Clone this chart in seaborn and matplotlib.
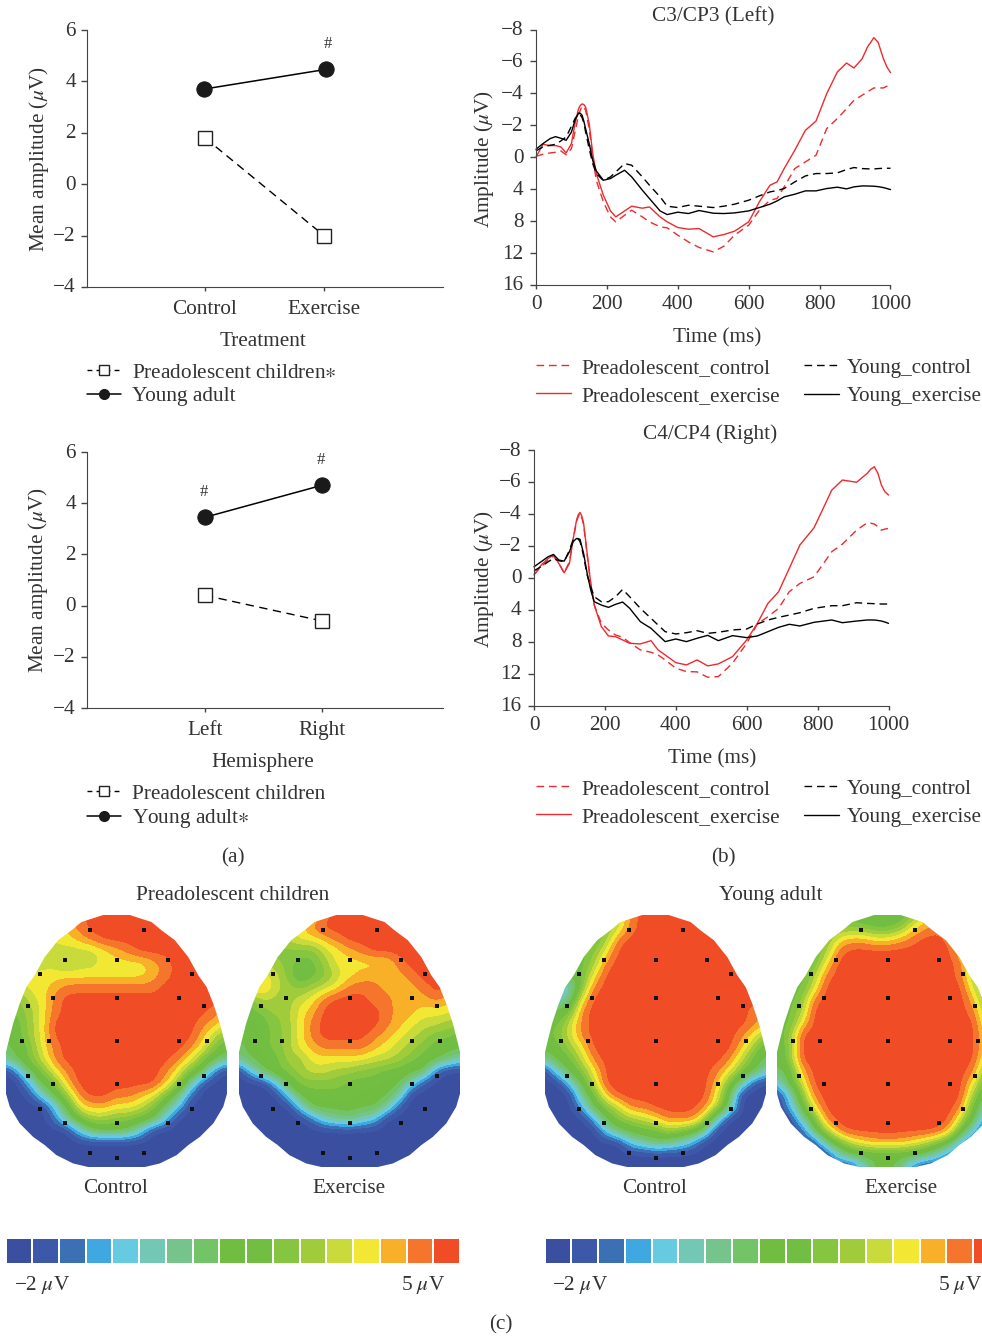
import matplotlib
matplotlib.use('Agg')
import matplotlib.pyplot as plt
from matplotlib.colors import ListedColormap
from matplotlib.lines import Line2D
from matplotlib.patches import Polygon
from matplotlib.transforms import ScaledTranslation
import numpy as np
import pandas as pd
import seaborn as sns

W, H = 982, 1337

#######################################
# data
#######################################
treatment_ticks = ['Control', 'Exercise']
hemisphere_ticks = ['Left', 'Right']
children_treatment = [1.8, -2.0]
adult_treatment = [3.7, 4.47]
children_hemisphere = [0.4, -0.6]
adult_hemisphere = [3.45, 4.7]

# the ERP y axis is labelled unevenly, 2 uV per tick above zero and 4 below
erp_ticks = [-8, -6, -4, -2, 0, 4, 8, 12, 16]

t_left = [0, 20, 40, 55, 70, 85, 100, 110, 120, 125, 130, 135, 140, 150, 160, 170, 190, 210, 225, 250, 270, 300, 320,
          350, 370, 400, 430, 460, 500, 530, 560, 600, 630, 660, 680, 700, 730, 760, 790, 820, 850, 876, 897, 920, 935,
          953, 965, 980, 990, 1000]
left_pre_control = [-0.06, -0.19, -0.27, -0.31, -0.40, -0.15, -0.54, -1.58, -2.63, -2.95, -3.21, -3.15, -2.94, -1.79,
                    -0.02, 2.88, 5.59, 7.47, 8.09, 7.26, 6.63, 7.47, 8.09, 8.72, 8.84, 9.76, 10.6, 11.3, 11.85, 11.14,
                    9.76, 8.51, 6.63, 5.38, 5.17, 3.71, 1.42, 0.58, -0.13, -1.79, -2.42, -3.04, -3.57, -3.88, -4.1,
                    -4.34, -4.34, -4.34, -4.45, -4.55]
left_pre_exercise = [-0.02, -0.81, -0.73, -0.73, -0.65, -0.27, -0.86, -2.11, -3.04, -3.25, -3.34, -3.3, -3.15, -2.11,
                     -0.23, 2.04, 4.76, 6.72, 7.47, 6.72, 6.13, 6.38, 6.22, 7.47, 8.09, 8.80, 9.01, 8.93, 9.97, 9.68,
                     9.26, 8.09, 5.59, 3.50, 3.09, 1.42, -0.44, -1.69, -2.27, -3.98, -5.34, -5.90, -5.59, -6.17, -6.9,
                     -7.49, -7.2, -6.17, -5.65, -5.30]
left_young_control = [-0.40, -0.65, -0.75, -0.81, -1.02, -1.27, -1.94, -2.42, -2.73, -2.65, -2.48, -2.15, -1.58, -0.54,
                      0.79, 2.04, 2.92, 2.46, 1.84, 0.79, 1.0, 2.46, 3.50, 4.96, 6.13, 6.30, 6.01, 6.13, 6.30, 6.13,
                      5.88, 5.38, 4.84, 4.34, 4.17, 3.92, 3.09, 2.34, 2.04, 2.04, 1.96, 1.54, 1.29, 1.42, 1.45, 1.46,
                      1.42, 1.38, 1.38, 1.38]
left_young_exercise = [-0.50, -0.86, -1.17, -1.29, -1.19, -1.06, -1.58, -2.31, -2.77, -2.75, -2.63, -2.25, -1.79, -0.86,
                       0.38, 1.71, 2.88, 2.67, 2.25, 1.63, 2.46, 4.13, 5.17, 6.72, 7.18, 6.88, 7.05, 6.67, 7.01, 7.05,
                       6.97, 6.72, 6.30, 5.88, 5.47, 4.96, 4.63, 4.21, 4.21, 3.92, 3.75, 3.96, 3.71, 3.59, 3.6, 3.63,
                       3.68, 3.80, 3.92, 4.05]

t_right = [0, 20, 40, 55, 70, 85, 100, 110, 120, 125, 130, 135, 140, 150, 160, 170, 190, 210, 230, 250, 270, 300, 330,
           350, 370, 400, 430, 460, 490, 520, 560, 600, 630, 660, 690, 720, 750, 790, 840, 870, 910, 940, 950, 960, 970,
           980, 990, 1000]
right_pre_control = [-0.21, -0.69, -1.11, -1.36, -0.90, -0.31, -1.00, -2.36, -3.51, -3.85, -4.03, -3.75, -3.30, -1.42,
                     0.71, 3.42, 5.71, 6.54, 7.17, 7.46, 8.13, 9.04, 9.33, 9.67, 10.29, 11.33, 11.75, 11.79, 12.46,
                     12.38, 10.71, 8.21, 5.79, 4.88, 3.83, 1.75, 0.71, -0.06, -1.63, -2.11, -2.98, -3.44, -3.42, -3.36,
                     -3.2, -2.98, -3.05, -3.09]
right_pre_exercise = [-0.17, -0.79, -1.21, -1.42, -0.90, -0.31, -0.90, -2.36, -3.61, -3.95, -4.09, -3.85, -3.40, -1.52,
                      0.71, 3.42, 6.13, 7.29, 7.38, 7.79, 8.21, 8.29, 7.88, 9.04, 9.67, 10.63, 10.92, 10.29, 11.04,
                      10.79, 9.88, 7.79, 5.71, 3.21, 1.75, -0.58, -2.05, -3.13, -5.49, -6.12, -5.98, -6.54, -6.8, -6.95,
                      -6.55, -5.80, -5.38, -5.18]
right_young_control = [-0.44, -0.69, -1.00, -1.21, -1.07, -1.00, -1.73, -2.36, -2.46, -2.42, -2.25, -1.85, -1.32, -0.17,
                       1.13, 2.38, 3.0, 3.0, 2.38, 1.46, 2.38, 3.83, 5.08, 5.92, 6.75, 7.04, 6.88, 6.63, 6.96, 6.83,
                       6.54, 6.42, 5.79, 5.29, 4.96, 4.67, 4.38, 3.83, 3.5, 3.5, 3.13, 3.21, 3.23, 3.25, 3.27, 3.29,
                       3.29, 3.29]
right_young_exercise = [-0.69, -1.00, -1.32, -1.46, -1.11, -1.04, -1.63, -2.25, -2.46, -2.45, -2.40, -1.95, -1.52,
                        -0.27, 1.54, 3.0, 3.42, 3.71, 3.33, 3.04, 3.83, 5.5, 6.33, 7.17, 8.0, 7.67, 8.0, 7.58, 7.21,
                        7.88, 7.25, 7.5, 7.29, 6.75, 6.21, 5.83, 6.04, 5.58, 5.29, 5.63, 5.42, 5.29, 5.29, 5.29, 5.35,
                        5.42, 5.55, 5.71]

# scalp maps, colour band index 0-16 (-2 to 5 uV)
map_pre_control = [
    [13, 13, 13, 13, 13, 14, 15, 16, 16, 16, 16, 16, 16, 16, 16, 16, 16, 16, 16],
    [12, 12, 12, 12, 12, 14, 15, 16, 16, 16, 16, 16, 16, 16, 16, 16, 16, 16, 16],
    [12, 12, 12, 12, 13, 13, 14, 15, 16, 16, 16, 16, 16, 16, 16, 16, 16, 16, 16],
    [11, 11, 11, 11, 12, 12, 12, 12, 13, 14, 15, 16, 16, 16, 16, 16, 16, 16, 16],
    [11, 11, 11, 12, 12, 11, 12, 12, 13, 13, 13, 13, 14, 15, 16, 16, 16, 16, 16],
    [12, 12, 13, 13, 13, 13, 13, 13, 13, 13, 13, 13, 14, 15, 16, 16, 16, 16, 16],
    [12, 12, 13, 13, 14, 15, 15, 15, 15, 15, 15, 15, 15, 16, 16, 16, 16, 16, 16],
    [10, 10, 12, 13, 15, 16, 16, 16, 16, 16, 16, 16, 16, 16, 16, 16, 16, 16, 16],
    [9, 10, 11, 13, 15, 16, 16, 16, 16, 16, 16, 16, 16, 16, 16, 16, 16, 15, 14],
    [8, 9, 11, 13, 16, 16, 16, 16, 16, 16, 16, 16, 16, 16, 16, 16, 15, 14, 13],
    [8, 9, 11, 13, 16, 16, 16, 16, 16, 16, 16, 16, 16, 16, 16, 16, 14, 12, 10],
    [7, 8, 10, 13, 15, 16, 16, 16, 16, 16, 16, 16, 16, 16, 16, 15, 13, 10, 8],
    [6, 8, 10, 12, 15, 16, 16, 16, 16, 16, 16, 16, 16, 16, 15, 13, 10, 8, 6],
    [0, 3, 8, 10, 13, 15, 16, 16, 16, 16, 16, 16, 16, 15, 13, 10, 8, 2, 0],
    [0, 0, 4, 8, 10, 14, 16, 16, 16, 16, 16, 16, 16, 14, 11, 6, 1, 0, 0],
    [0, 0, 1, 5, 8, 11, 15, 16, 16, 15, 15, 14, 13, 10, 7, 2, 0, 0, 0],
    [0, 0, 0, 0, 4, 8, 13, 14, 14, 13, 13, 12, 10, 7, 4, 0, 0, 0, 0],
    [0, 0, 0, 0, 2, 6, 9, 11, 11, 10, 10, 9, 8, 4, 0, 0, 0, 0, 0],
    [0, 0, 0, 0, 0, 0, 4, 7, 8, 8, 7, 4, 0, 0, 0, 0, 0, 0, 0],
    [0, 0, 0, 0, 0, 0, 0, 0, 0, 0, 0, 0, 0, 0, 0, 0, 0, 0, 0],
    [0, 0, 0, 0, 0, 0, 0, 0, 0, 0, 0, 0, 0, 0, 0, 0, 0, 0, 0],
    [0, 0, 0, 0, 0, 0, 0, 0, 0, 0, 0, 0, 0, 0, 0, 0, 0, 0, 0],
]
map_pre_exercise = [
    [11, 11, 11, 11, 11, 12, 13, 15, 16, 16, 16, 16, 16, 16, 16, 16, 16, 16, 16],
    [11, 11, 11, 11, 11, 13, 15, 16, 16, 16, 16, 16, 16, 16, 16, 16, 16, 16, 16],
    [10, 10, 11, 11, 12, 13, 13, 14, 15, 16, 16, 16, 16, 16, 16, 16, 16, 16, 16],
    [10, 10, 10, 10, 10, 10, 10, 12, 13, 14, 15, 16, 16, 16, 16, 16, 16, 16, 16],
    [11, 11, 11, 11, 10, 9, 9, 11, 13, 13, 13, 13, 13, 15, 16, 16, 16, 16, 16],
    [13, 13, 13, 12, 10, 8, 9, 10, 12, 13, 14, 14, 14, 14, 15, 16, 16, 16, 16],
    [14, 14, 14, 12, 11, 10, 11, 12, 13, 15, 15, 15, 14, 14, 14, 15, 16, 16, 16],
    [10, 10, 12, 11, 11, 12, 13, 15, 16, 16, 16, 15, 15, 14, 14, 14, 15, 14, 13],
    [9, 9, 10, 11, 11, 13, 14, 16, 16, 16, 16, 16, 15, 14, 14, 13, 13, 13, 12],
    [8, 8, 9, 10, 11, 13, 15, 16, 16, 16, 16, 16, 15, 14, 13, 12, 12, 11, 11],
    [8, 8, 9, 10, 11, 13, 15, 16, 16, 16, 16, 15, 14, 13, 12, 11, 10, 10, 9],
    [7, 8, 9, 10, 11, 13, 14, 15, 15, 15, 15, 14, 13, 12, 11, 10, 9, 8, 8],
    [6, 8, 8, 9, 11, 11, 13, 13, 13, 13, 13, 12, 12, 11, 10, 9, 8, 7, 5],
    [0, 4, 8, 9, 10, 11, 12, 12, 11, 11, 10, 10, 9, 9, 8, 8, 2, 0, 0],
    [0, 0, 0, 4, 8, 10, 10, 10, 10, 9, 9, 9, 8, 8, 5, 1, 0, 0, 0],
    [0, 0, 0, 0, 4, 8, 9, 9, 9, 9, 8, 8, 8, 6, 0, 0, 0, 0, 0],
    [0, 0, 0, 0, 0, 4, 8, 8, 8, 8, 8, 8, 6, 1, 0, 0, 0, 0, 0],
    [0, 0, 0, 0, 0, 0, 2, 5, 6, 7, 5, 4, 0, 0, 0, 0, 0, 0, 0],
    [0, 0, 0, 0, 0, 0, 0, 0, 0, 0, 0, 0, 0, 0, 0, 0, 0, 0, 0],
    [0, 0, 0, 0, 0, 0, 0, 0, 0, 0, 0, 0, 0, 0, 0, 0, 0, 0, 0],
    [0, 0, 0, 0, 0, 0, 0, 0, 0, 0, 0, 0, 0, 0, 0, 0, 0, 0, 0],
    [0, 0, 0, 0, 0, 0, 0, 0, 0, 0, 0, 0, 0, 0, 0, 0, 0, 0, 0],
]
map_young_control = [
    [10, 10, 10, 10, 10, 10, 12, 15, 16, 16, 16, 16, 16, 16, 16, 16, 16, 16, 16],
    [10, 10, 10, 10, 10, 10, 12, 15, 16, 16, 16, 16, 16, 16, 16, 16, 16, 16, 16],
    [9, 9, 9, 9, 9, 11, 15, 16, 16, 16, 16, 16, 16, 16, 16, 16, 16, 16, 16],
    [9, 9, 9, 9, 10, 13, 16, 16, 16, 16, 16, 16, 16, 16, 16, 16, 16, 16, 16],
    [9, 9, 9, 9, 11, 15, 16, 16, 16, 16, 16, 16, 16, 16, 16, 16, 16, 16, 16],
    [8, 8, 8, 9, 13, 16, 16, 16, 16, 16, 16, 16, 16, 16, 16, 16, 16, 16, 16],
    [4, 4, 4, 10, 15, 16, 16, 16, 16, 16, 16, 16, 16, 16, 16, 16, 16, 16, 16],
    [4, 4, 6, 13, 16, 16, 16, 16, 16, 16, 16, 16, 16, 16, 16, 16, 16, 16, 16],
    [8, 8, 9, 15, 16, 16, 16, 16, 16, 16, 16, 16, 16, 16, 16, 16, 16, 15, 14],
    [9, 9, 12, 15, 16, 16, 16, 16, 16, 16, 16, 16, 16, 16, 16, 16, 16, 15, 14],
    [9, 10, 12, 15, 16, 16, 16, 16, 16, 16, 16, 16, 16, 16, 16, 16, 15, 13, 11],
    [8, 9, 11, 13, 16, 16, 16, 16, 16, 16, 16, 16, 16, 16, 16, 16, 14, 11, 8],
    [6, 8, 9, 12, 15, 16, 16, 16, 16, 16, 16, 16, 16, 16, 16, 15, 12, 9, 7],
    [0, 5, 8, 10, 13, 16, 16, 16, 16, 16, 16, 16, 16, 16, 15, 13, 10, 8, 5],
    [0, 0, 4, 8, 12, 16, 16, 16, 16, 16, 16, 16, 16, 16, 14, 10, 6, 1, 0],
    [0, 0, 0, 6, 9, 14, 16, 16, 16, 16, 16, 16, 16, 16, 13, 8, 0, 0, 0],
    [0, 0, 0, 3, 8, 10, 12, 15, 15, 16, 16, 16, 16, 15, 12, 7, 0, 0, 0],
    [0, 0, 0, 0, 3, 8, 10, 11, 12, 13, 15, 15, 15, 12, 5, 0, 0, 0, 0],
    [0, 0, 0, 0, 0, 4, 7, 8, 9, 9, 11, 10, 9, 6, 0, 0, 0, 0, 0],
    [0, 0, 0, 0, 0, 0, 0, 4, 5, 7, 6, 5, 3, 0, 0, 0, 0, 0, 0],
    [0, 0, 0, 0, 0, 0, 0, 0, 0, 0, 0, 0, 0, 0, 0, 0, 0, 0, 0],
    [0, 0, 0, 0, 0, 0, 0, 0, 0, 0, 0, 0, 0, 0, 0, 0, 0, 0, 0],
]
map_young_exercise = [
    [9, 9, 9, 9, 9, 10, 9, 8, 8, 8, 8, 10, 13, 14, 14, 14, 14, 14, 14],
    [9, 9, 9, 9, 9, 10, 10, 10, 9, 9, 10, 13, 14, 15, 15, 15, 15, 15, 15],
    [9, 9, 9, 9, 10, 13, 14, 14, 13, 13, 14, 15, 16, 16, 15, 14, 14, 14, 14],
    [9, 9, 9, 9, 11, 15, 16, 16, 16, 16, 16, 16, 16, 16, 16, 13, 10, 10, 10],
    [9, 9, 9, 9, 13, 16, 16, 16, 16, 16, 16, 16, 16, 16, 16, 15, 12, 10, 10],
    [9, 9, 9, 11, 15, 16, 16, 16, 16, 16, 16, 16, 16, 16, 16, 15, 11, 10, 10],
    [9, 9, 9, 12, 16, 16, 16, 16, 16, 16, 16, 16, 16, 16, 16, 16, 12, 10, 10],
    [9, 9, 10, 15, 16, 16, 16, 16, 16, 16, 16, 16, 16, 16, 16, 16, 14, 10, 10],
    [9, 9, 11, 16, 16, 16, 16, 16, 16, 16, 16, 16, 16, 16, 16, 16, 15, 11, 10],
    [9, 9, 13, 16, 16, 16, 16, 16, 16, 16, 16, 16, 16, 16, 16, 16, 16, 12, 10],
    [9, 10, 16, 16, 16, 16, 16, 16, 16, 16, 16, 16, 16, 16, 16, 16, 16, 13, 11],
    [8, 10, 16, 16, 16, 16, 16, 16, 16, 16, 16, 16, 16, 16, 16, 16, 16, 13, 11],
    [8, 10, 16, 16, 16, 16, 16, 16, 16, 16, 16, 16, 16, 16, 16, 16, 16, 12, 10],
    [7, 8, 14, 16, 16, 16, 16, 16, 16, 16, 16, 16, 16, 16, 16, 16, 15, 10, 9],
    [4, 8, 12, 16, 16, 16, 16, 16, 16, 16, 16, 16, 16, 16, 16, 16, 13, 9, 8],
    [0, 4, 10, 15, 16, 16, 16, 16, 16, 16, 16, 16, 16, 16, 16, 16, 11, 7, 5],
    [0, 3, 8, 13, 16, 16, 16, 16, 16, 16, 16, 16, 16, 16, 16, 15, 9, 5, 2],
    [0, 0, 5, 9, 15, 16, 16, 16, 16, 16, 16, 16, 16, 16, 16, 12, 8, 2, 0],
    [0, 0, 1, 7, 11, 15, 16, 16, 16, 16, 16, 16, 16, 16, 14, 9, 4, 0, 0],
    [0, 0, 0, 0, 6, 9, 12, 13, 14, 14, 14, 13, 12, 10, 8, 3, 0, 0, 0],
    [0, 0, 0, 0, 0, 5, 7, 8, 8, 8, 8, 8, 7, 5, 2, 0, 0, 0, 0],
    [0, 0, 0, 0, 0, 0, 0, 4, 8, 8, 7, 2, 0, 0, 0, 0, 0, 0, 0],
]

band_colors = ['#3a4f9f', '#3d58a8', '#3b70b5', '#40a8e0', '#66cbe0', '#72c8b5', '#74c48c', '#72c466', '#70bd42',
               '#72be43', '#85c540', '#a0cb3a', '#c9da3b', '#f2e733', '#f7b028', '#f5752d', '#f04d26']
band_index = list(range(17))

# electrode sites as fractions of the map box
site_x = [.378, .624, .267, .5, .734, .156, .841, .211, .5, .785, .101, .896, .074, .196, .5, .785, .909, .101, .211,
          .5, .785, .896, .156, .841, .267, .5, .734, .378, .5, .624]
site_y = [.060, .060, .177, .177, .177, .233, .233, .328, .328, .328, .361, .361, .501, .501, .501, .501, .501, .640,
          .672, .672, .672, .640, .770, .770, .825, .825, .825, .943, .964, .943]

# head outline, half width against depth
head_y = [0, .028, .061, .1, .167, .239, .286, .352, .431, .511, .544, .709, .761, .827, .880, .913, .953, .986, 1]
head_half = [.06, .159, .204, .264, .325, .370, .408, .438, .468, .491, .5, .5, .483, .438, .378, .325, .272, .196, .128]

#######################################
# style
#######################################
sns.set_style('ticks')
INK = '#333333'
plt.rcParams['font.family'] = ['Liberation Serif', 'DejaVu Sans']
plt.rcParams['mathtext.fontset'] = 'stix'
plt.rcParams['text.color'] = INK
plt.rcParams['axes.labelcolor'] = INK
plt.rcParams['axes.edgecolor'] = '#444444'
plt.rcParams['xtick.color'] = '#444444'
plt.rcParams['ytick.color'] = '#444444'
plt.rcParams['xtick.labelcolor'] = INK
plt.rcParams['ytick.labelcolor'] = INK
FS = 15.3
RED = '#ee2a2e'

fig = plt.figure(figsize=(W / 100, H / 100), dpi=100)


def px_axes(left, top, right, bottom):
    return fig.add_axes([left / W, 1 - bottom / H, (right - left) / W, (bottom - top) / H])


def px_text(x, y, s, size=FS, **kw):
    fig.text(x / W, 1 - (y + 2.5) / H, s, fontsize=size, ha=kw.pop('ha', 'center'), va='center', **kw)


def label_axes(ax, xlabel, ylabel, x_at, y_at):
    ax.set_xlabel(xlabel, fontsize=FS)
    ax.set_ylabel(ylabel, fontsize=FS)
    ax.xaxis.set_label_coords(x_at[0] / W, 1 - (x_at[1] + 2.5) / H, transform=fig.transFigure)
    ax.yaxis.set_label_coords((y_at[0] + 2.5) / W, 1 - y_at[1] / H, transform=fig.transFigure)
    ax.xaxis.label.set_va('center')
    ax.yaxis.label.set_va('center')


def lift_ylabels(ax):
    for lab in ax.get_yticklabels():
        lab.set_transform(lab.get_transform() + ScaledTranslation(0, 1.5 / 100, fig.dpi_scale_trans))


#######################################
# a: mean amplitude
#######################################
def mean_panel(box, ticks, children, adult, adult_x, xlabel, x_at, y_at, labels, legend_at, marks, xlim, mark_dx):
    ax = px_axes(*box)
    df = pd.DataFrame({'x': [1, 2], 'adult_x': adult_x, 'children': children, 'adult': adult})
    sns.lineplot(data=df, x='x', y='children', ax=ax, color='black', linewidth=1, linestyle=(0, (6, 4)),
                 marker='s', markersize=10, markerfacecolor='white', markeredgecolor='#222222', markeredgewidth=1)
    sns.lineplot(data=df, x='adult_x', y='adult', ax=ax, color='black', linewidth=1.1, marker='o', markersize=11,
                 markerfacecolor='#1a1a1a', markeredgecolor='#1a1a1a')
    ax.set_xlim(*xlim)
    ax.set_ylim(-4, 6)
    ax.set_xticks([1, 2], ticks)
    ax.set_yticks([-4, -2, 0, 2, 4, 6], ['−4', '−2', '0', '2', '4', '6'])
    ax.tick_params(axis='x', labelsize=FS, length=3, width=1, pad=6.3)
    ax.tick_params(axis='y', labelsize=FS, length=4, width=1, pad=4)
    lift_ylabels(ax)
    sns.despine(ax=ax)
    label_axes(ax, xlabel, 'Mean amplitude ($\\mu$V)', x_at, y_at)
    for x, y in marks:
        ax.annotate('#', (x, y), xytext=(mark_dx, 18.5), textcoords='offset points', ha='center', va='center',
                    fontsize=12)
    handles = [Line2D([], [], color='black', lw=1, ls=(0, (3.5, 3)), marker='s', ms=6.5, mfc='white', mec='#222222'),
               Line2D([], [], color='black', lw=1.1, marker='o', ms=7, mfc='#1a1a1a', mec='#1a1a1a')]
    ax.legend(handles, labels, loc='upper left', bbox_to_anchor=(legend_at[0] / W, 1 - legend_at[1] / H),
              bbox_transform=fig.transFigure, frameon=False, fontsize=FS, handlelength=1.6, handletextpad=0.5,
              labelspacing=0.16, borderpad=0, borderaxespad=0)


mean_panel((87, 30, 443, 287), treatment_ticks, children_treatment, adult_treatment, [0.99, 2.02], 'Treatment',
           (263, 339), (37, 159), ['Preadolescent children$\\ast$', 'Young adult'], (87, 363), [(2.02, 4.47)],
           (0.008, 3.0), 1)
mean_panel((87, 452, 443, 708), hemisphere_ticks, children_hemisphere, adult_hemisphere, [1, 2], 'Hemisphere',
           (263, 760), (36, 580), ['Preadolescent children', 'Young adult$\\ast$'], (87, 784),
           [(1, 3.45), (2, 4.7)], (-0.0085, 3.034), -0.5)


#######################################
# b: ERP waves
#######################################
def erp_forward(v):
    return np.interp(v, [-8, 0, 16], [-4, 0, 4])


def erp_inverse(p):
    return np.interp(p, [-4, 0, 4], [-8, 0, 16])


def erp_panel(box, title, title_y, t, pre_c, pre_e, young_c, young_e, x_at, y_at, legend_y):
    ax = px_axes(*box)
    ax.set_yscale('function', functions=(erp_forward, erp_inverse))
    for vals, col, ls, name in [(pre_c, RED, (0, (5.5, 3.5)), 'Preadolescent_control'),
                                (pre_e, RED, '-', 'Preadolescent_exercise'),
                                (young_c, 'black', (0, (5.5, 3.5)), 'Young_control'),
                                (young_e, 'black', '-', 'Young_exercise')]:
        df = pd.DataFrame({'time': t, 'amp': vals})
        sns.lineplot(data=df, x='time', y='amp', ax=ax, color=col, linewidth=1, linestyle=ls, label=name,
                     clip_on=False)
    ax.set_xlim(0, 1000)
    ax.set_ylim(16, -8)
    ax.set_xticks([0, 200, 400, 600, 800, 1000])
    ax.set_yticks(erp_ticks, [str(v).replace('-', '−') for v in erp_ticks])
    ax.minorticks_off()
    ax.tick_params(axis='x', labelsize=FS, length=3, width=1, pad=4.5)
    ax.tick_params(axis='y', labelsize=FS, length=4, width=1, pad=5)
    lift_ylabels(ax)
    sns.despine(ax=ax)
    label_axes(ax, 'Time (ms)', 'Amplitude ($\\mu$V)', x_at, y_at)
    px_text((box[0] + box[2]) / 2 - (0 if box[0] == 536 else 1), title_y, title)
    # two legends, the second column sits closer to its handles in the picture
    handles, names = ax.get_legend_handles_labels()
    first = ax.legend(handles[:2], names[:2], loc='upper left', bbox_to_anchor=(535.5 / W, 1 - legend_y / H),
                      bbox_transform=fig.transFigure, frameon=False, fontsize=FS, handlelength=1.65,
                      handletextpad=0.52, labelspacing=0.38, borderpad=0, borderaxespad=0)
    ax.add_artist(first)
    ax.legend(handles[2:], names[2:], loc='upper left', bbox_to_anchor=(803.5 / W, 1 - legend_y / H),
              bbox_transform=fig.transFigure, frameon=False, fontsize=15.1, handlelength=1.67,
              handletextpad=0.38, labelspacing=0.42, borderpad=0, borderaxespad=0)


erp_panel((536, 29.5, 890.5, 285), 'C3/CP3 (Left)', 14, t_left, left_pre_control, left_pre_exercise,
          left_young_control, left_young_exercise, (717, 335), (481, 159), 358)
erp_panel((534, 450, 888.5, 705.5), 'C4/CP4 (Right)', 432, t_right, right_pre_control, right_pre_exercise,
          right_young_control, right_young_exercise, (712, 756), (481, 579), 779)

px_text(233, 855, '(a)')
px_text(723, 855, '(b)')


#######################################
# c: scalp maps and colour bars
#######################################
cmap = ListedColormap(band_colors)


def scalp_map(left, grid, label_x, label):
    ax = px_axes(left, 915, left + 221, 1167)
    values = np.array(grid, dtype=float)
    dx = 0.5 / (values.shape[1] - 1)
    dy = 0.5 / (values.shape[0] - 1)
    im = ax.imshow(values, cmap=cmap, vmin=-0.5, vmax=16.5, aspect='auto', interpolation='bicubic',
                   interpolation_stage='data', extent=(-dx, 1 + dx, 1 + dy, -dy))
    side = np.array(head_half)
    outline = np.column_stack([np.r_[0.5 - side, (0.5 + side)[::-1]], np.r_[head_y, head_y[::-1]]])
    im.set_clip_path(Polygon(outline, closed=True, transform=ax.transData))
    sns.scatterplot(x=site_x, y=site_y, ax=ax, marker='s', s=7, color='#111111', linewidth=0, legend=False)
    ax.set_xlim(0, 1)
    ax.set_ylim(1, 0)
    ax.axis('off')
    px_text(label_x, 1186, label)


def colour_bar(left, right):
    ax = px_axes(left, 1237.5, right, 1264)
    sns.heatmap(np.array([band_index]), ax=ax, cmap=cmap, vmin=-0.5, vmax=16.5, cbar=False, linewidths=1.1,
                linecolor='white', xticklabels=False, yticklabels=False)


scalp_map(6, map_pre_control, 116, 'Control')
scalp_map(239, map_pre_exercise, 349, 'Exercise')
scalp_map(545, map_young_control, 655, 'Control')
scalp_map(777, map_young_exercise, 901, 'Exercise')

px_text(233, 893, 'Preadolescent children')
px_text(771, 893, 'Young adult')
colour_bar(5.5, 460)
colour_bar(544.5, 1000)
px_text(42, 1283, '−2 $\\mu$V')
px_text(423.5, 1283, '5 $\\mu$V')
px_text(580, 1283, '−2 $\\mu$V')
px_text(960, 1283, '5 $\\mu$V')
px_text(501, 1322, '(c)')

fig.savefig('out.png', dpi=100)
